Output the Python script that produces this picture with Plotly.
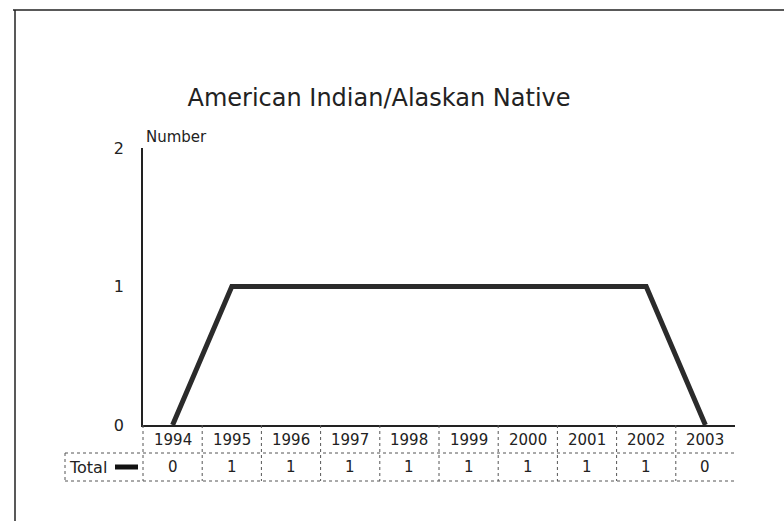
import plotly.graph_objects as go

years = ["1994", "1995", "1996", "1997", "1998", "1999", "2000", "2001", "2002", "2003"]
totals = [0, 1, 1, 1, 1, 1, 1, 1, 1, 0]
series_name = "Total"
title_text = "American Indian/Alaskan Native"
y_label = "Number"
y_ticks = [0, 1, 2]

# pixel geometry helpers
W, H = 784, 521
L, R, T, B = 143, 735, 148, 425
def px(xp):
    return (xp - L) / (R - L)
def py(yp):
    return (B - yp) / (B - T)

FONT = "DejaVu Sans"
TXT = "#222222"
fig = go.Figure()
fig.add_trace(go.Scatter(x=years, y=totals, mode="lines", name=series_name,
                         line=dict(color="#2b2b2b", width=5), showlegend=False))

shapes = []
grid = dict(color="#555555", width=1, dash="dot")
# table horizontal lines
for yp in (453, 481):
    shapes.append(dict(type="line", xref="paper", yref="paper", x0=px(65), x1=px(735),
                       y0=py(yp), y1=py(yp), line=grid))
# left edges
shapes.append(dict(type="line", xref="paper", yref="paper", x0=px(65), x1=px(65),
                   y0=py(453), y1=py(481), line=grid))
shapes.append(dict(type="line", xref="paper", yref="paper", x0=0, x1=0,
                   y0=0, y1=py(481), line=grid))
# category separators
for i in range(1, len(years)):
    shapes.append(dict(type="line", xref="x", yref="paper", x0=i - 0.5, x1=i - 0.5,
                       y0=0, y1=py(481), line=grid))
# legend key
shapes.append(dict(type="line", xref="paper", yref="paper", x0=px(115), x1=px(138),
                   y0=py(467), y1=py(467), line=dict(color="#111111", width=5)))
# outer frame (top and left)
shapes.append(dict(type="line", xref="paper", yref="paper", x0=px(13), x1=px(784),
                   y0=py(10), y1=py(10), line=dict(color="#222222", width=1.5)))
shapes.append(dict(type="line", xref="paper", yref="paper", x0=px(15), x1=px(15),
                   y0=py(10), y1=py(521), line=dict(color="#222222", width=1.5)))

annotations = []
for i, (yr, v) in enumerate(zip(years, totals)):
    annotations.append(dict(x=i, y=py(440), xref="x", yref="paper", text=yr,
                            xanchor="center", yanchor="middle",
                            showarrow=False, font=dict(family=FONT, size=15, color=TXT)))
    annotations.append(dict(x=i, y=py(467), xref="x", yref="paper", text=str(v),
                            xanchor="center", yanchor="middle",
                            showarrow=False, font=dict(family=FONT, size=15, color=TXT)))
annotations.append(dict(x=px(67), y=py(467), xref="paper", yref="paper", text=series_name,
                        xanchor="left", yanchor="middle", showarrow=False,
                        font=dict(family=FONT, size=16, color=TXT)))
annotations.append(dict(x=px(144), y=py(137), xref="paper", yref="paper", text=y_label,
                        xanchor="left", yanchor="middle", showarrow=False,
                        font=dict(family=FONT, size=15, color=TXT)))

fig.update_layout(
    width=W, height=H,
    margin=dict(l=L, r=W - R, t=T, b=H - B),
    paper_bgcolor="white", plot_bgcolor="white",
    title=dict(text=title_text, xref="paper", x=px(379), xanchor="center",
               yref="container", y=1 - 98 / H, yanchor="middle",
               font=dict(family=FONT, size=24, color=TXT)),
    xaxis=dict(type="category", range=[-0.5, len(years) - 0.5], showline=True, linecolor="#222",
               linewidth=1.5, showticklabels=False, showgrid=False, zeroline=False, ticks=""),
    yaxis=dict(range=[0, 2], tickvals=y_ticks, showline=True, linecolor="#222", linewidth=1.5,
               showgrid=False, zeroline=False, ticks="", ticklabelstandoff=14,
               tickfont=dict(family=FONT, size=16, color=TXT)),
    shapes=shapes, annotations=annotations,
)
fig.write_html("out.html", config={"displayModeBar": False},
               post_script="document.body.style.margin='0';")
